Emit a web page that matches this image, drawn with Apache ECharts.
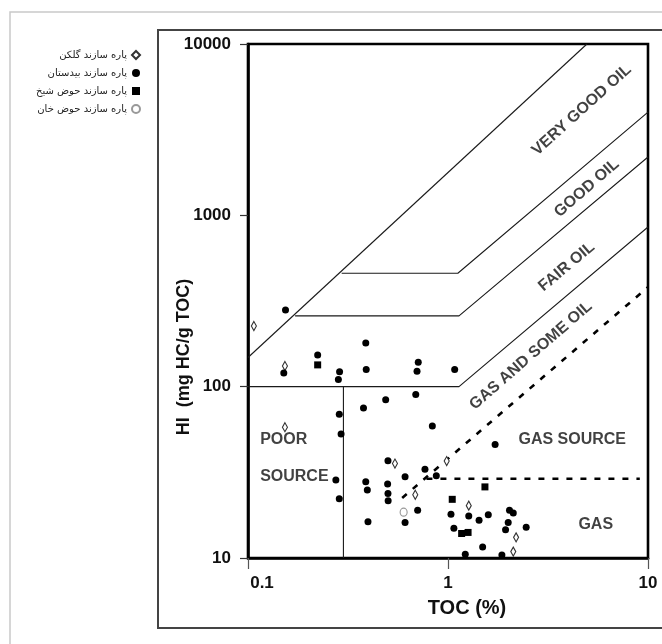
<!DOCTYPE html>
<html>
<head>
<meta charset="utf-8">
<script src="https://cdn.jsdelivr.net/npm/echarts@6/dist/echarts.min.js"></script>
<style>
  html, body { margin: 0; padding: 0; background: #fff; }
  #main { width: 662px; height: 644px; }
</style>
</head>
<body>
<div id="main"></div>
<script>
// نمونه ها - TOC (%) و HI (mg HC/g TOC)
const golkanTOC = [0.107, 0.153, 0.153, 0.543, 0.985, 0.686, 1.27, 2.19, 2.12];
const golkanHI  = [226, 132, 58, 35.6, 36.8, 23.4, 20.2, 13.2, 10.9];

const bidestanTOC = [0.154, 0.388, 0.223, 0.151, 0.287, 0.283, 0.39, 0.71, 0.70, 1.08,
  0.488, 0.378, 0.69, 0.286, 0.292, 0.835, 1.72,
  0.275, 0.286, 0.388, 0.395, 0.398, 0.501, 0.499, 0.501, 0.502,
  0.61, 0.61, 0.705, 0.767, 0.874, 1.035, 1.07, 1.27, 1.43, 1.59,
  1.49, 1.22, 1.86, 2.03, 2.12, 2.0, 1.94, 2.46];
const bidestanHI = [280, 180, 153, 120, 122, 110, 126, 139, 123, 126,
  84, 75, 90, 69, 53, 59, 46,
  28.5, 22.2, 27.9, 24.9, 16.3, 37, 27, 23.8, 21.6,
  29.8, 16.1, 19, 33, 30.2, 18, 14.9, 17.6, 16.6, 17.9,
  11.6, 10.5, 10.4, 19, 18.3, 16.1, 14.6, 15.1];

const sheikhTOC = [0.223, 1.53, 1.05, 1.17, 1.26];
const sheikhHI  = [134, 26, 22, 13.9, 14.1];

const khanTOC = [0.60];
const khanHI  = [18.5];

const seriesNames = ['پاره سازند گلکن', 'پاره سازند بیدستان', 'پاره سازند حوض شیخ', 'پاره سازند حوض خان'];

// خطوط مرزی نمودار
const veryGoodTOC = [0.1, 4.95];
const veryGoodHI  = [148, 10000];
const goodTOC = [0.294, 1.12, 10];
const goodHI  = [459, 459, 4000];
const fairTOC = [0.172, 1.135, 10];
const fairHI  = [259, 259, 2190];
const gasOilTOC = [0.1, 1.135, 10];
const gasOilHI  = [100, 100, 855];
const poorTOC = [0.3, 0.3];
const poorHI  = [100, 10];
const gasDiagTOC = [0.59, 10];
const gasDiagHI  = [22.4, 381];
const gasFlatTOC = [0.78, 9.1];
const gasFlatHI  = [29, 29];

// برچسب نواحی
const regionNames = ['VERY GOOD OIL', 'GOOD OIL', 'FAIR OIL', 'GAS AND SOME OIL', 'POOR', 'SOURCE', 'GAS SOURCE', 'GAS'];
const regionTOC = [4.66, 4.94, 3.92, 2.60, 0.115, 0.115, 4.18, 5.48];
const regionHI  = [4120, 1440, 501, 152, 48.8, 29.8, 48.8, 15.7];
const regionRotate = [42, 41, 40, 41, 0, 0, 0, 0];

const xTicks = [0.1, 1, 10];
const yTicks = [10, 100, 1000, 10000];

const zip = (a, b) => a.map((v, i) => [v, b[i]]);

const fontEn = '"Liberation Sans", Arial, sans-serif';
const fontFa = '"DejaVu Sans", sans-serif';
const ink = '#111';

const lineSeries = (xs, ys, dashed) => ({
  type: 'line',
  data: zip(xs, ys),
  symbol: 'none',
  silent: true,
  lineStyle: dashed
    ? { color: '#000', width: 2.6, type: [6, 8] }
    : { color: '#1a1a1a', width: 1.1 },
  z: 2
});

const myChart = echarts.init(document.getElementById('main'));

const option = {
  animation: false,
  backgroundColor: '#fff',
  graphic: [
    { type: 'rect', z: -10, shape: { x: 10, y: 12, width: 700, height: 700 },
      style: { fill: 'none', stroke: '#c9c9c9', lineWidth: 1.5 } },
    { type: 'rect', z: -10, shape: { x: 158, y: 30, width: 600, height: 598 },
      style: { fill: 'none', stroke: '#444', lineWidth: 2 } }
  ],
  legend: {
    orient: 'vertical',
    align: 'right',
    right: 516,
    top: 44,
    itemWidth: 8,
    itemHeight: 8,
    itemGap: 6,
    data: seriesNames,
    textStyle: { fontFamily: fontFa, fontSize: 10, color: '#222', lineHeight: 12 }
  },
  grid: {
    left: 248, right: 14, top: 44, bottom: 86,
    show: true, borderColor: '#000', borderWidth: 2.6
  },
  xAxis: {
    type: 'log',
    logBase: 10,
    min: 0.1,
    max: 10,
    name: 'TOC (%)',
    nameLocation: 'middle',
    nameGap: 40,
    nameMoveOverlap: false,
    nameTextStyle: { fontFamily: fontEn, fontSize: 20, fontWeight: 'bold', color: ink, padding: [0, 0, 0, 38] },
    axisLine: { show: true, lineStyle: { color: '#000', width: 2.6 } },
    axisTick: { show: true, inside: false, length: 11, lineStyle: { color: '#555', width: 1.2 } },
    minorTick: { show: false },
    splitLine: { show: false },
    axisLabel: {
      margin: 17,
      showMinLabel: true,
      showMaxLabel: true,
      formatter: v => {
        const s = String(+(+v).toPrecision(6));
        return s === String(xTicks[0]) ? '{f|' + s + '}' : '{n|' + s + '}';
      },
      rich: {
        f: { fontFamily: fontEn, fontSize: 17, fontWeight: 'bold', color: ink, padding: [0, 0, 0, 28] },
        n: { fontFamily: fontEn, fontSize: 17, fontWeight: 'bold', color: ink }
      }
    }
  },
  yAxis: {
    type: 'log',
    logBase: 10,
    min: 10,
    max: 10000,
    name: 'HI  (mg HC/g TOC)',
    nameLocation: 'middle',
    nameGap: 55,
    nameMoveOverlap: false,
    nameTextStyle: { fontFamily: fontEn, fontSize: 18, fontWeight: 'bold', color: ink, padding: [0, 112, 0, 0] },
    axisLine: { show: true, lineStyle: { color: '#000', width: 2.6 } },
    axisTick: { show: true, inside: false, length: 8, lineStyle: { color: '#333', width: 1.2 } },
    minorTick: { show: false },
    splitLine: { show: false },
    axisLabel: {
      margin: 17,
      fontFamily: fontEn, fontSize: 17, fontWeight: 'bold', color: ink,
      formatter: v => String(Math.round(v))
    }
  },
  series: [
    lineSeries(veryGoodTOC, veryGoodHI, false),
    lineSeries(goodTOC, goodHI, false),
    lineSeries(fairTOC, fairHI, false),
    lineSeries(gasOilTOC, gasOilHI, false),
    lineSeries(poorTOC, poorHI, false),
    lineSeries(gasDiagTOC, gasDiagHI, true),
    lineSeries(gasFlatTOC, gasFlatHI, true),
    {
      type: 'scatter',
      silent: true,
      symbolSize: 0,
      z: 3,
      data: regionNames.map((n, i) => ({
        value: [regionTOC[i], regionHI[i]],
        label: {
          show: true,
          position: 'inside',
          formatter: n,
          rotate: regionRotate[i],
          align: (n === 'POOR' || n === 'SOURCE') ? 'left' : 'center',
          fontFamily: fontEn, fontSize: 16, fontWeight: 'bold', color: ink
        }
      }))
    },
    {
      name: seriesNames[0],
      type: 'scatter',
      symbol: 'diamond',
      symbolSize: [5, 9],
      itemStyle: { color: '#fff', borderColor: '#333', borderWidth: 1.2, opacity: 1 },
      data: zip(golkanTOC, golkanHI),
      z: 5
    },
    {
      name: seriesNames[1],
      type: 'scatter',
      symbol: 'circle',
      symbolSize: 7,
      itemStyle: { color: '#000', opacity: 1 },
      data: zip(bidestanTOC, bidestanHI),
      z: 5
    },
    {
      name: seriesNames[2],
      type: 'scatter',
      symbol: 'rect',
      symbolSize: 7,
      itemStyle: { color: '#000', opacity: 1 },
      data: zip(sheikhTOC, sheikhHI),
      z: 5
    },
    {
      name: seriesNames[3],
      type: 'scatter',
      symbol: 'circle',
      symbolSize: [7, 8],
      itemStyle: { color: '#fff', borderColor: '#999', borderWidth: 1.2, opacity: 1 },
      data: zip(khanTOC, khanHI),
      z: 5
    }
  ]
};

option && myChart.setOption(option);
</script>
</body>
</html>
